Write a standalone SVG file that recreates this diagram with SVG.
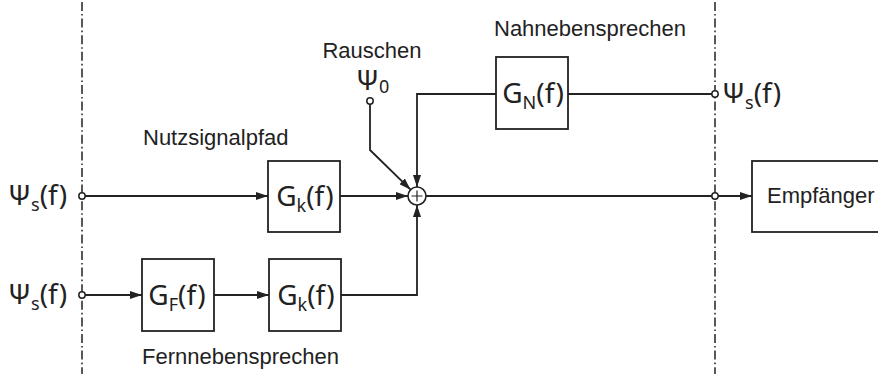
<svg xmlns="http://www.w3.org/2000/svg" width="878" height="374" viewBox="0 0 878 374">
<style>
.bg{fill:#fff}
.lbl{font-family:"Liberation Sans",Arial,sans-serif;font-size:22px;fill:#222}
.math{font-family:"Noto Sans","DejaVu Sans",sans-serif;font-size:28px;fill:#222}
.sub{font-size:18px}
.box{fill:#fff;stroke:#222;stroke-width:1.8}
.wire{fill:none;stroke:#222;stroke-width:1.8}
.bound{fill:none;stroke:#222;stroke-width:1.5;stroke-dasharray:9 3 1.6 3}
.term{fill:#fff;stroke:#222;stroke-width:1.5}
</style>
<defs>
<marker id="arr" viewBox="0 0 12 8" refX="12" refY="4" markerWidth="12" markerHeight="8" markerUnits="userSpaceOnUse" orient="auto">
<path d="M0,0 L12,4 L0,8 Z" fill="#222"/>
</marker>
</defs>
<rect class="bg" x="0" y="0" width="878" height="374"/>

<g id="boundaries">
<line class="bound" x1="82" y1="2" x2="82" y2="374"/>
<line class="bound" x1="715" y1="2" x2="715" y2="374"/>
</g>

<g id="connectors">
<line class="wire" x1="85" y1="196" x2="268" y2="196" marker-end="url(#arr)"/>
<line class="wire" x1="85" y1="295" x2="142" y2="295" marker-end="url(#arr)"/>
<line class="wire" x1="214" y1="295" x2="269" y2="295" marker-end="url(#arr)"/>
<line class="wire" x1="340" y1="196" x2="408" y2="196" marker-end="url(#arr)"/>
<polyline class="wire" points="341,295 417,295 417,205" marker-end="url(#arr)"/>
<polyline class="wire" points="496,94 417,94 417,187" marker-end="url(#arr)"/>
<polyline class="wire" points="370,104 370,150 410.6,189.7" marker-end="url(#arr)"/>
<line class="wire" x1="568" y1="94" x2="712" y2="94"/>
<line class="wire" x1="426" y1="196" x2="712" y2="196"/>
<line class="wire" x1="718" y1="196" x2="752" y2="196" marker-end="url(#arr)"/>
</g>

<g id="in-top">
<text class="math" x="8" y="205">Ψ<tspan class="sub" dy="6">s</tspan><tspan dy="-6">(f)</tspan></text>
<circle class="term" cx="82" cy="196" r="3.2"/>
</g>
<g id="in-bottom">
<text class="math" x="8" y="304">Ψ<tspan class="sub" dy="6">s</tspan><tspan dy="-6">(f)</tspan></text>
<circle class="term" cx="82" cy="295" r="3.2"/>
</g>
<g id="noise">
<text class="lbl" x="372" y="58" text-anchor="middle">Rauschen</text>
<text class="math" x="356" y="90">Ψ<tspan class="sub" dy="3">0</tspan></text>
<circle class="term" cx="370" cy="101" r="3.2"/>
</g>
<g id="out-near">
<circle class="term" cx="715" cy="94" r="3.2"/>
<text class="math" x="722" y="103">Ψ<tspan class="sub" dy="6">s</tspan><tspan dy="-6">(f)</tspan></text>
</g>
<g id="out-main">
<circle class="term" cx="715" cy="196" r="3.2"/>
</g>

<g id="Gk1">
<rect class="box" x="268" y="161" width="72" height="71"/>
<text class="math" x="305" y="206" text-anchor="middle">G<tspan class="sub" dy="6">k</tspan><tspan dy="-6">(f)</tspan></text>
<text class="lbl" x="143" y="145">Nutzsignalpfad</text>
</g>
<g id="GF">
<rect class="box" x="142" y="259" width="72" height="72"/>
<text class="math" x="177" y="305" text-anchor="middle">G<tspan class="sub" dy="6">F</tspan><tspan dy="-6">(f)</tspan></text>
<text class="lbl" x="142" y="364">Fernnebensprechen</text>
</g>
<g id="Gk2">
<rect class="box" x="269" y="259" width="72" height="72"/>
<text class="math" x="306" y="305" text-anchor="middle">G<tspan class="sub" dy="6">k</tspan><tspan dy="-6">(f)</tspan></text>
</g>
<g id="GN">
<rect class="box" x="496" y="57" width="72" height="72"/>
<text class="math" x="533" y="103" text-anchor="middle">G<tspan class="sub" dy="6">N</tspan><tspan dy="-6">(f)</tspan></text>
<text class="lbl" x="494" y="36">Nahnebensprechen</text>
</g>
<g id="sum">
<circle cx="417" cy="196" r="9" fill="#fff" stroke="#222" stroke-width="1.6"/>
<path d="M411.5,196 H422.5 M417,190.5 V201.5" stroke="#222" stroke-width="1.2" fill="none"/>
</g>
<g id="receiver">
<rect class="box" x="752" y="161" width="140" height="71"/>
<text class="lbl" x="767" y="203">Empfänger</text>
</g>
</svg>
